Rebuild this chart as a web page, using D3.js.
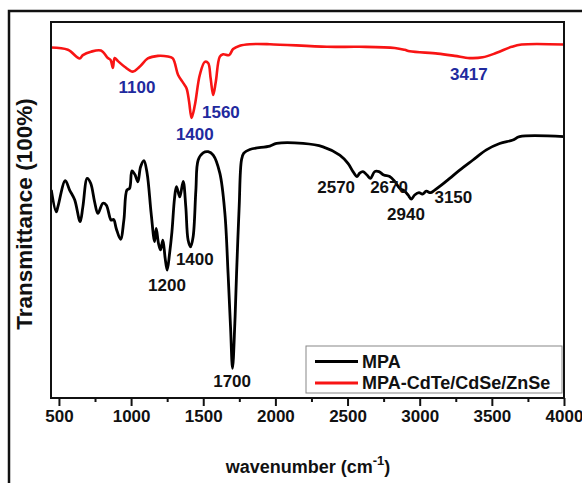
<!DOCTYPE html>
<html>
<head>
<meta charset="utf-8">
<script src="https://cdn.jsdelivr.net/npm/d3@7"></script>
<style>
  html, body { margin: 0; padding: 0; background: #ffffff; }
  svg { display: block; }
  text { font-family: "Liberation Sans", Arial, sans-serif; font-weight: bold; }
</style>
</head>
<body>
<svg id="chart" width="582" height="483"></svg>
<script>
// FTIR spectra: wavenumber (cm-1) vs transmittance (arbitrary offset, %)
const mpaWavenumber = [447, 481, 493, 544, 574, 609, 647, 666, 696, 720, 747, 770, 805, 828, 862, 879, 897, 927, 950, 971, 990, 1006, 1028, 1047, 1066, 1089, 1111, 1139, 1163, 1174, 1190, 1204, 1220, 1236, 1250, 1267, 1283, 1301, 1314, 1329, 1338, 1361, 1379, 1395, 1412, 1430, 1449, 1465, 1499, 1534, 1569, 1615, 1650, 1672, 1689, 1703, 1719, 1731, 1749, 1765, 1781, 1823, 1961, 2008, 2192, 2330, 2446, 2503, 2538, 2566, 2584, 2607, 2635, 2659, 2688, 2718, 2751, 2792, 2827, 2861, 2896, 2919, 2942, 2965, 2995, 3019, 3046, 3074, 3104, 3150, 3208, 3277, 3369, 3462, 3554, 3646, 3692, 4000];
const mpaTransmittance = [55.3, 49.5, 50.9, 57.8, 55.3, 52.7, 46.9, 50.9, 58.4, 57.1, 52.2, 49.1, 51.8, 51.3, 47.3, 47.5, 45.1, 42.2, 47.3, 55.3, 55.8, 60.4, 59.3, 57.5, 61.5, 63.1, 59.8, 49.1, 41.6, 45.1, 41.1, 39.4, 42.0, 37.2, 34.0, 38.5, 44.2, 53.1, 56.2, 54.4, 53.5, 57.6, 50.9, 42.0, 40.2, 42.9, 55.3, 63.3, 65.2, 65.5, 64.6, 59.8, 49.1, 33.2, 19.0, 7.9, 19.9, 33.2, 50.9, 63.3, 65.1, 66.1, 67.0, 67.7, 67.7, 66.8, 64.6, 62.4, 60.2, 58.9, 59.8, 60.2, 59.3, 58.4, 60.2, 60.2, 59.3, 58.9, 57.6, 55.8, 55.0, 54.0, 52.9, 54.0, 54.6, 54.2, 55.0, 54.6, 55.3, 56.6, 58.4, 60.6, 63.3, 66.0, 67.7, 68.6, 69.5, 69.5];

const qdWavenumber = [445, 562, 643, 666, 722, 791, 839, 858, 874, 886, 909, 955, 1012, 1059, 1116, 1186, 1255, 1289, 1326, 1361, 1384, 1402, 1419, 1442, 1476, 1511, 1534, 1551, 1569, 1587, 1615, 1638, 1679, 1707, 1753, 1823, 1961, 2356, 2584, 2827, 2896, 2931, 3125, 3242, 3346, 3436, 3533, 3637, 3706, 4000];
const qdTransmittance = [93.2, 92.6, 90.3, 91.2, 92.1, 92.4, 90.4, 89.9, 87.8, 90.4, 89.6, 88.1, 86.8, 88.1, 90.3, 91.0, 90.8, 90.3, 85.9, 83.8, 82.4, 78.8, 74.5, 77.9, 85.9, 89.4, 89.1, 85.1, 80.6, 84.1, 90.8, 91.4, 91.2, 92.8, 93.7, 94.1, 94.1, 93.4, 93.4, 93.1, 92.6, 92.2, 91.6, 91.0, 90.4, 90.6, 91.8, 93.4, 94.0, 94.0];

const seriesNames = ["MPA", "MPA-CdTe/CdSe/ZnSe"];
const xTickValues = [500, 1000, 1500, 2000, 2500, 3000, 3500, 4000];
const xMinorTickValues = [750, 1250, 1750, 2250, 2750, 3250, 3750];

// band assignments written on the plot
const qdBandLabels = ["1100", "1400", "1560", "3417"];
const mpaBandLabels = ["1200", "1400", "1700", "2570", "2670", "2940", "3150"];

const svg = d3.select("#chart");
const plot = { left: 51, top: 22, right: 564, bottom: 398 };

const x = d3.scaleLinear().domain([445, 4000]).range([plot.left, plot.right]);
const y = d3.scaleLinear().domain([0, 100]).range([plot.bottom, plot.top]);

// outer figure frame
svg.append("rect")
  .attr("x", 9).attr("y", 11).attr("width", 640).attr("height", 540)
  .attr("fill", "none").attr("stroke", "#111").attr("stroke-width", 2.5);

const line = d3.line().x(d => x(d[0])).y(d => y(d[1])).curve(d3.curveCatmullRom.alpha(0.5));

svg.append("clipPath").attr("id", "plotclip")
  .append("rect").attr("x", plot.left).attr("y", plot.top)
  .attr("width", plot.right - plot.left).attr("height", plot.bottom - plot.top);

const curves = svg.append("g").attr("clip-path", "url(#plotclip)");
curves.append("path")
  .datum(d3.zip(mpaWavenumber, mpaTransmittance))
  .attr("fill", "none").attr("stroke", "#000").attr("stroke-width", 2.8)
  .attr("stroke-linejoin", "round").attr("d", line);
curves.append("path")
  .datum(d3.zip(qdWavenumber, qdTransmittance))
  .attr("fill", "none").attr("stroke", "#f81414").attr("stroke-width", 2.6)
  .attr("stroke-linejoin", "round").attr("d", line);

// plot box
svg.append("rect")
  .attr("x", plot.left).attr("y", plot.top)
  .attr("width", plot.right - plot.left).attr("height", plot.bottom - plot.top)
  .attr("fill", "none").attr("stroke", "#111").attr("stroke-width", 2);

// x axis: major ticks with labels, minor ticks between
const xAxis = d3.axisBottom(x).tickValues(xTickValues).tickSize(8).tickPadding(4).tickFormat(d3.format("d"));
const gx = svg.append("g").attr("transform", `translate(0,${plot.bottom})`).call(xAxis);
gx.select(".domain").remove();
gx.selectAll(".tick line").attr("stroke", "#111").attr("stroke-width", 2);
gx.selectAll(".tick text").attr("font-size", 17).attr("fill", "#111")
  .attr("font-family", "Liberation Sans, Arial, sans-serif").attr("font-weight", "bold");

const gxm = svg.append("g").attr("transform", `translate(0,${plot.bottom})`)
  .call(d3.axisBottom(x).tickValues(xMinorTickValues).tickSize(4).tickFormat(""));
gxm.select(".domain").remove();
gxm.selectAll(".tick line").attr("stroke", "#111").attr("stroke-width", 2);

// axis titles
const xt = svg.append("text").attr("x", 308).attr("y", 473)
  .attr("text-anchor", "middle").attr("font-size", 18).attr("fill", "#111");
xt.append("tspan").text("wavenumber (cm");
xt.append("tspan").attr("dy", -8).attr("font-size", 13).text("-1");
xt.append("tspan").attr("dy", 8).text(")");

svg.append("text")
  .attr("transform", "translate(32,214) rotate(-90)")
  .attr("text-anchor", "middle").attr("font-size", 22.5).attr("fill", "#111")
  .text("Transmittance (100%)");

// band annotations: [pixel shift from the band position, height in data units]
const qdPlacement = [[-8.5, 82.8], [6, 70.2], [9, 76.1], [-11, 86.2]];
const mpaPlacement = [[7, 30.1], [6, 37.0], [0, 4.5], [-21.5, 56.1], [17, 56.1], [-5, 48.9], [12, 53.5]];

svg.append("g").selectAll("text").data(qdBandLabels).join("text")
  .attr("x", (d, i) => x(+d) + qdPlacement[i][0])
  .attr("y", (d, i) => y(qdPlacement[i][1]))
  .attr("dy", "0.35em").attr("text-anchor", "middle")
  .attr("font-size", 17).attr("fill", "#1f2a9e").text(d => d);

svg.append("g").selectAll("text").data(mpaBandLabels).join("text")
  .attr("x", (d, i) => x(+d) + mpaPlacement[i][0])
  .attr("y", (d, i) => y(mpaPlacement[i][1]))
  .attr("dy", "0.35em").attr("text-anchor", "middle")
  .attr("font-size", 17).attr("fill", "#111").text(d => d);

// legend
const legend = svg.append("g");
legend.append("rect")
  .attr("x", 306).attr("y", 346).attr("width", 256).attr("height", 47)
  .attr("fill", "#fff").attr("stroke", "#888").attr("stroke-width", 1);
const legendColors = ["#000", "#f81414"];
seriesNames.forEach((name, i) => {
  const ly = 361.5 + i * 21.5;
  legend.append("line").attr("x1", 315).attr("x2", 358).attr("y1", ly).attr("y2", ly)
    .attr("stroke", legendColors[i]).attr("stroke-width", 2.8);
  legend.append("text").attr("x", 362).attr("y", ly).attr("dy", "0.35em")
    .attr("font-size", 18).attr("fill", "#111").text(name);
});
</script>
</body>
</html>
